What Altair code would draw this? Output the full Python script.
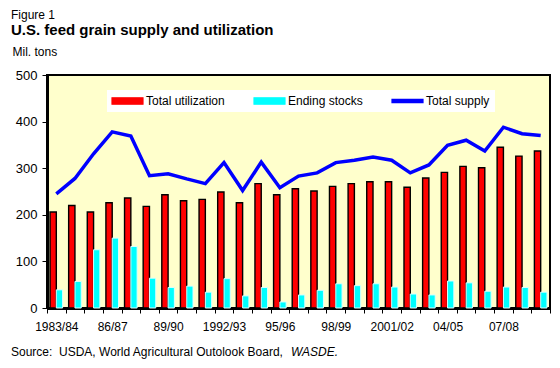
import altair as alt
import pandas as pd

years = ["1983/84", "84/85", "85/86", "86/87", "87/88", "88/89", "89/90", "90/91", "91/92",
         "1992/93", "93/94", "94/95", "95/96", "96/97", "97/98", "98/99", "99/00", "2000/01",
         "2001/02", "02/03", "03/04", "04/05", "05/06", "06/07", "07/08", "08/09", "09/10"]
utilization = [206, 220, 206, 226, 236, 218, 243, 230, 233, 249, 226, 267, 243, 256, 251,
               261, 267, 271, 271, 259, 279, 291, 304, 301, 345, 326, 337]
ending_stocks = [39, 57, 125, 150, 132, 64, 44, 47, 34, 63, 26, 44, 13, 28, 38, 52, 48, 52,
                 45, 30, 28, 58, 54, 36, 45, 44, 34]
total_supply = [245, 278, 331, 378, 369, 284, 288, 277, 267, 312, 252, 313, 258, 283, 290,
                312, 317, 324, 317, 290, 307, 349, 360, 337, 388, 374, 370]
series_names = ["Total utilization", "Ending stocks", "Total supply"]
series_colors = ["#ff0000", "#00ffff", "#0000ff"]
source_normal = "Source:\u00a0 USDA, World Agricultural Outolook Board,"
source_italic = "WASDE."

FONT = "Liberation Sans"
W, H = 503, 233

bar_df = pd.DataFrame({
    "year": years * 2,
    "series": [series_names[0]] * len(years) + [series_names[1]] * len(years),
    "value": utilization + ending_stocks,
})
line_df = pd.DataFrame({"year": years, "series": series_names[2], "value": total_supply})

x_enc = alt.X(
    "year:N", sort=years, title=None,
    scale=alt.Scale(paddingInner=0, paddingOuter=0),
    axis=alt.Axis(
        tickBand="extent", tickSize=5, tickColor="black", tickWidth=1,
        domainColor="black", domainWidth=3, labelAngle=0, labelFontSize=12,
        labelColor="black", labelFont=FONT, labelPadding=8, labelOverlap=False,
        labelExpr="indexof(domain('x'), datum.value) % 3 === 0 ? datum.label : ''",
    ),
)
y_enc = alt.Y(
    "value:Q",
    scale=alt.Scale(domain=[0, 500]),
    axis=alt.Axis(
        values=[0, 100, 200, 300, 400, 500], grid=False, tickSize=5, tickColor="black",
        domainColor="black", domainWidth=3, labelFontSize=13, labelColor="black",
        labelFont=FONT, labelPadding=5,
        title="Mil. tons", titleAngle=0, titleAlign="left", titleBaseline="alphabetic",
        titleX=-35, titleY=-20, titleFontSize=12, titleFontWeight="normal",
        titleColor="black", titleFont=FONT,
    ),
)
color_enc = alt.Color(
    "series:N",
    scale=alt.Scale(domain=series_names, range=series_colors),
    legend=alt.Legend(
        orient="none", legendX=60, legendY=15, direction="horizontal", title=None,
        fillColor="#ffffff", padding=5, symbolSize=100, symbolOpacity=1,
        symbolType=alt.ExprRef(
            "datum.value === 'Total supply' ? 'M-3.1,-0.32H3.1V0.32H-3.1Z' : 'M-3.1,-0.65H3.1V0.65H-3.1Z'"
        ),
        symbolStrokeColor=alt.ExprRef(
            "datum.value === 'Total utilization' ? 'black' : 'transparent'"
        ),
        symbolStrokeWidth=1.2, symbolOffset=9.5,
        labelFontSize=12, labelFont=FONT, labelColor="black", labelOffset=12.5,
        columnPadding=26, zindex=1,
    ),
)

bars = alt.Chart(bar_df).mark_bar().encode(
    x=x_enc,
    xOffset=alt.XOffset("series:N", sort=series_names[:2],
                        scale=alt.Scale(paddingOuter=0.48, paddingInner=0)),
    y=y_enc,
    color=color_enc,
    stroke=alt.condition("datum.series === 'Total utilization'",
                         alt.value("black"), alt.value("#d9ffff")),
    strokeWidth=alt.condition("datum.series === 'Total utilization'",
                              alt.value(1.4), alt.value(1)),
)

line = alt.Chart(line_df).mark_line(strokeWidth=3.5).encode(
    x=alt.X("year:N", sort=years),
    y=alt.Y("value:Q"),
    color=alt.Color("series:N"),
)

src1 = alt.Chart(pd.DataFrame({"t": [source_normal]})).mark_text(
    align="left", baseline="alphabetic", fontSize=12, font=FONT, color="black"
).encode(x=alt.value(-36), y=alt.value(H + 48), text="t:N")
src2 = alt.Chart(pd.DataFrame({"t": [source_italic]})).mark_text(
    align="left", baseline="alphabetic", fontSize=12, font=FONT, color="black",
    fontStyle="italic"
).encode(x=alt.value(244), y=alt.value(H + 48), text="t:N")

chart = alt.layer(bars, line, src1, src2).properties(
    width=W, height=H,
    autosize="none",
    background="white",
    padding={"left": 39, "top": 67, "right": 2, "bottom": 52},
    title=alt.TitleParams(
        text="Figure 1", subtitle="U.S. feed grain supply and utilization",
        anchor="start", fontSize=12, fontWeight="normal", color="black", font=FONT,
        subtitleFont=FONT, subtitleFontSize=15, subtitleFontWeight="bold",
        subtitleColor="black", subtitlePadding=1, offset=6,
    ),
).configure_view(fill="#ffffcc", stroke="black", strokeWidth=2)

chart.save("out.html", embed_options={"renderer": "svg", "actions": False})
